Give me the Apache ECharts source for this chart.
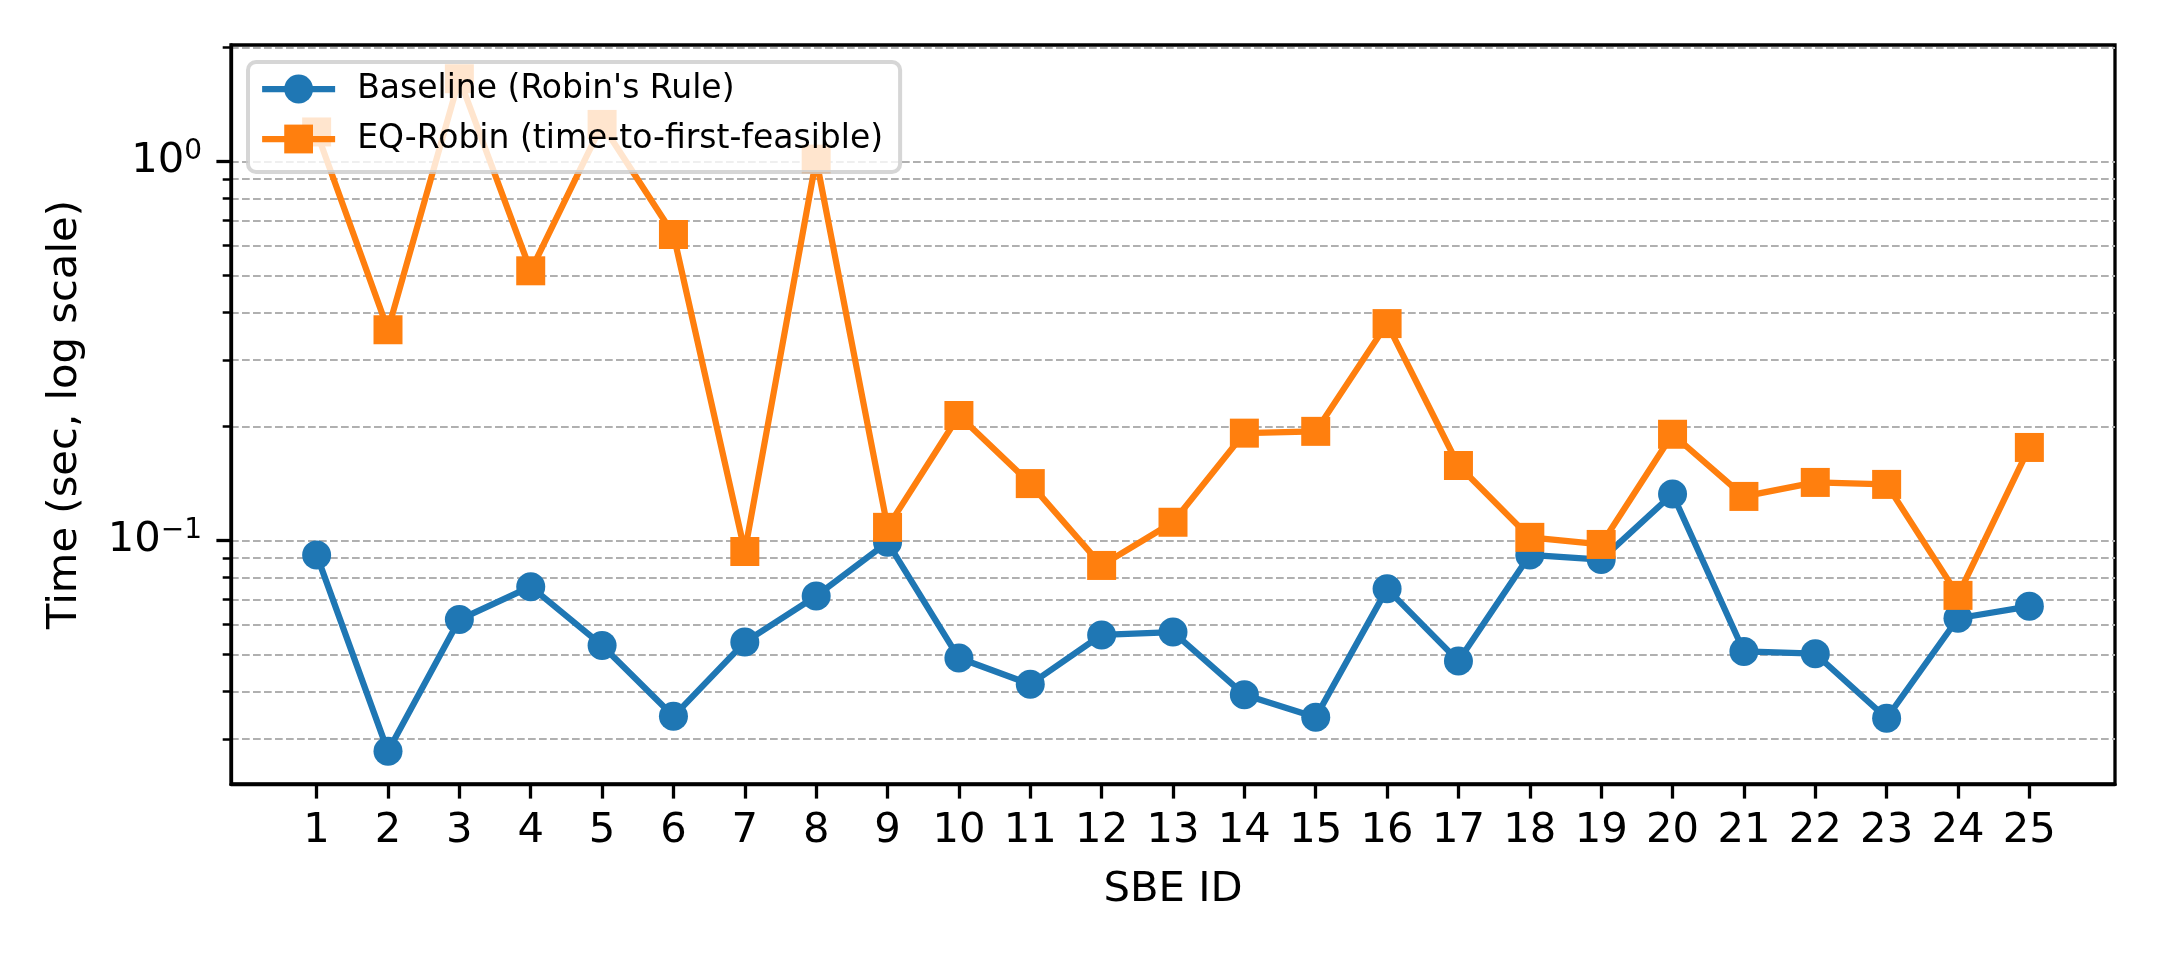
<!DOCTYPE html>
<html>
<head>
<meta charset="utf-8">
<script src="https://cdn.jsdelivr.net/npm/echarts@6/dist/echarts.min.js"></script>
<style>
html,body{margin:0;padding:0;background:#fff;}
#chart{width:2160px;height:960px;}
</style>
</head>
<body>
<div id="chart"></div>
<script>
// ---- data ----
var sbeIds = [1,2,3,4,5,6,7,8,9,10,11,12,13,14,15,16,17,18,19,20,21,22,23,24,25];
var baselineTimes = [0.0917,0.0278,0.0619,0.0756,0.0529,0.0344,0.0540,0.0714,0.0990,0.0490,0.0418,0.0564,0.0574,0.0392,0.0342,0.0746,0.0481,0.0917,0.0891,0.1327,0.0510,0.0503,0.0340,0.0624,0.0671];
var eqRobinTimes = [1.197,0.360,1.654,0.515,1.253,0.642,0.0936,1.015,0.1084,0.2138,0.1414,0.0860,0.1118,0.1921,0.1942,0.3737,0.1578,0.1020,0.0977,0.1908,0.1308,0.1424,0.1407,0.0717,0.1761];
var majorYTicks = [0.1, 1];
var allYTicks = [0.03,0.04,0.05,0.06,0.07,0.08,0.09,0.1,0.2,0.3,0.4,0.5,0.6,0.7,0.8,0.9,1,2];
var seriesNames = ["Baseline (Robin's Rule)", "EQ-Robin (time-to-first-feasible)"];

var FONT = 'DejaVu Sans';
function pairs(xs, ys){ return xs.map(function(x,i){ return [x, ys[i]]; }); }

var chart = echarts.init(document.getElementById('chart'), null, {renderer:'canvas'});
var option = {
  animation: false,
  backgroundColor: '#fff',
  textStyle: {fontFamily: FONT},
  grid: {left: 231, right: 45, top: 45, bottom: 176, show: true, borderColor: '#000', borderWidth: 3.3, backgroundColor: 'transparent'},
  legend: {
    left: 248, top: 62,
    orient: 'vertical',
    padding: [9, 17, 15, 11],
    itemGap: 14,
    itemWidth: 73, itemHeight: 36,
    backgroundColor: 'rgba(255,255,255,0.8)',
    borderColor: 'rgba(204,204,204,0.8)',
    borderWidth: 4,
    borderRadius: 8,
    lineStyle: {width: 6.25},
    textStyle: {fontFamily: FONT, fontSize: 33, color: '#000', padding: [0,0,0,17], lineHeight: 36},
    selectedMode: false,
    data: seriesNames
  },
  xAxis: {
    type: 'value',
    min: -0.2, max: 26.2,
    name: 'SBE ID',
    nameLocation: 'middle',
    nameGap: 85,
    nameTextStyle: {fontFamily: FONT, fontSize: 41.7, color: '#000'},
    axisLine: {show: true, onZero: false, lineStyle: {color: '#000', width: 3.3}},
    axisTick: {show: true, inside: false, length: 14.6, lineStyle: {color: '#000', width: 3.3}, customValues: sbeIds},
    axisLabel: {show: true, margin: 26, fontFamily: FONT, fontSize: 41.7, color: '#000', customValues: sbeIds},
    splitLine: {show: false}
  },
  yAxis: [
    {
      type: 'log', logBase: 10,
      min: 0.0228, max: 2.03,
      position: 'left',
      name: 'Time (sec, log scale)',
      nameLocation: 'middle',
      nameGap: 145,
      nameTextStyle: {fontFamily: FONT, fontSize: 41.7, color: '#000'},
      axisLine: {show: true, onZero: false, lineStyle: {color: '#000', width: 3.3}},
      axisTick: {show: true, inside: false, length: 8.3, lineStyle: {color: '#000', width: 2.5}, customValues: allYTicks},
      axisLabel: {show: false},
      minorTick: {show: false},
      splitLine: {show: true, lineStyle: {color: '#b0b0b0', width: 2.08, type: [7.7, 3.3]}}
    },
    {
      type: 'log', logBase: 10,
      min: 0.0228, max: 2.03,
      position: 'left',
      axisLine: {show: false, onZero: false},
      axisTick: {show: true, inside: false, length: 14.6, lineStyle: {color: '#000', width: 3.3}, customValues: majorYTicks},
      axisLabel: {
        show: true, margin: 29, customValues: majorYTicks,
        formatter: function(v){
          var e = Math.round(Math.log(v)/Math.LN10);
          return '{b|10}{s|' + (e < 0 ? '\u2212' + (-e) : e) + '}';
        },
        rich: {
          b: {fontFamily: FONT, fontSize: 41.7, color: '#000', lineHeight: 50},
          s: {fontFamily: FONT, fontSize: 28, color: '#000', lineHeight: 50, padding: [0,0,20,0]}
        }
      },
      splitLine: {show: false}
    }
  ],
  series: [
    {
      name: seriesNames[0],
      type: 'line',
      yAxisIndex: 0,
      data: pairs(sbeIds, baselineTimes),
      symbol: 'circle', symbolSize: 29,
      lineStyle: {color: '#1f77b4', width: 6.25},
      itemStyle: {color: '#1f77b4'},
      emphasis: {disabled: true}
    },
    {
      name: seriesNames[1],
      type: 'line',
      yAxisIndex: 0,
      data: pairs(sbeIds, eqRobinTimes),
      symbol: 'rect', symbolSize: 29,
      lineStyle: {color: '#ff7f0e', width: 6.25},
      itemStyle: {color: '#ff7f0e'},
      emphasis: {disabled: true}
    }
  ]
};
chart.setOption(option);
</script>
</body>
</html>
